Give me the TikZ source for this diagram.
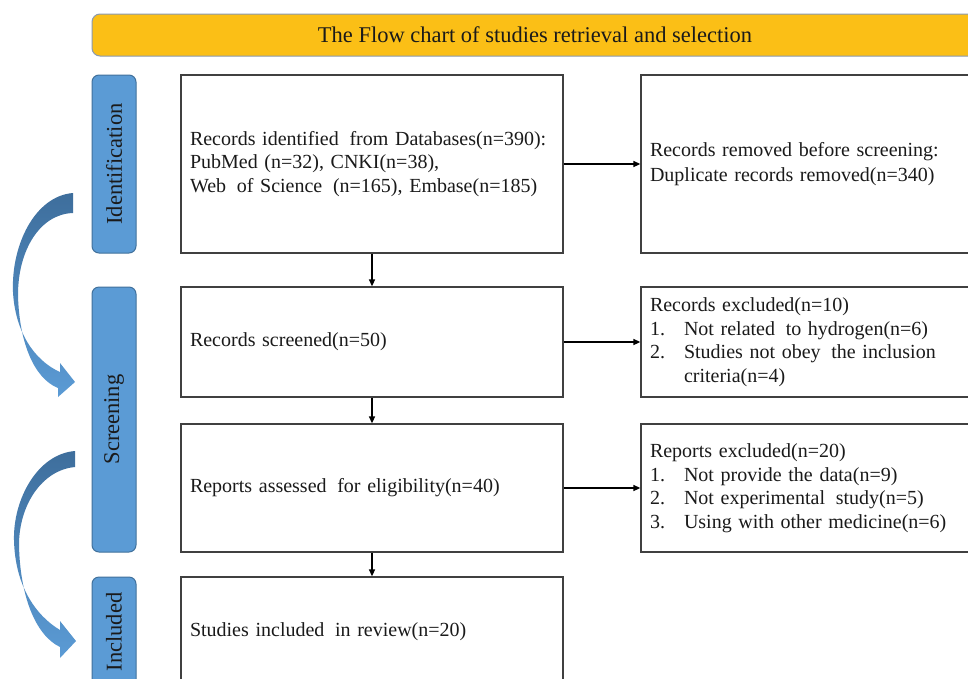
\documentclass[tikz,border=0pt]{standalone}
\usepackage{fontspec}
\setmainfont{Liberation Serif}
\usetikzlibrary{arrows.meta}
\definecolor{gold}{HTML}{FBBF16}
\definecolor{goldline}{HTML}{8A9AB0}
\definecolor{sideblue}{HTML}{5B9BD5}
\definecolor{sideline}{HTML}{41719C}
\definecolor{darkblue}{HTML}{3E6E9C}
\definecolor{boxline}{HTML}{404040}
\definecolor{txt}{HTML}{1A1A1A}
\tikzset{
  mainbox/.style={draw=boxline, line width=1.3pt, fill=white, inner xsep=9pt, inner ysep=0pt,
    align=left, text=txt, font=\fontsize{20}{23.5}\selectfont},
  sidebox/.style={draw=sideline, line width=1pt, fill=sideblue, rounded corners=7pt,
    minimum width=44pt, inner sep=0pt, text=txt, font=\fontsize{22.5}{26}\selectfont},
  titlebar/.style={draw=goldline, line width=1pt, fill=gold, rounded corners=8pt,
    minimum width=886pt, minimum height=42pt, inner sep=0pt, text=txt, font=\fontsize{22.5}{26}\selectfont},
  arr/.style={line width=1.4pt, draw=black, -{Triangle[length=7pt,width=6pt]}},
  bendarrow/.style={top color=darkblue, bottom color=sideblue, draw=none}
}
\newcommand{\itm}[1]{\makebox[34pt][l]{#1}}
\newcommand{\wsp}{\hspace*{4pt}}
\begin{document}
\begin{tikzpicture}[x=1pt,y=-1pt]
\path[use as bounding box] (0,0) rectangle (968,678);
\clip (0,0) rectangle (968,678);
\fill[white] (0,0) rectangle (968,678);

% title
\node[titlebar] (title) at (535,35) {The Flow chart of studies retrieval and selection};

% side labels
\node[sidebox, minimum height=178pt] (ident) at (114,164) {\rotatebox{90}{Identification}};
\node[sidebox, minimum height=265pt] (screen) at (114,419.5) {\rotatebox{90}{Screening}};
\node[sidebox, minimum height=110pt] (incl) at (114,632) {\rotatebox{90}{Included}};

% main boxes
\node[mainbox, text width=364pt, minimum height=178pt] (b1) at (372,164)
  {Records identified \wsp from Databases(n=390):\\PubMed (n=32), CNKI(n=38),\\Web \wsp of Science \wsp (n=165), Embase(n=185)};
\node[mainbox, text width=364pt, minimum height=110pt] (b2) at (372,342)
  {Records screened(n=50)};
\node[mainbox, text width=364pt, minimum height=128pt] (b3) at (372,488)
  {Reports assessed \wsp for eligibility(n=40)};
\node[mainbox, text width=364pt, minimum height=110pt] (b4) at (372,632)
  {Studies included \wsp in review(n=20)};

% right boxes
\node[mainbox, text width=331pt, minimum height=178pt, font=\fontsize{20}{25}\selectfont] (r1) at (815.5,164)
  {Records removed before screening:\\Duplicate records removed(n=340)};
\node[mainbox, text width=331pt, minimum height=110pt] (r2) at (815.5,342)
  {Records excluded(n=10)\\\itm{1.}Not related \wsp to hydrogen(n=6)\\\itm{2.}Studies not obey \wsp the inclusion\\\itm{}criteria(n=4)};
\node[mainbox, text width=331pt, minimum height=128pt] (r3) at (815.5,488)
  {Reports excluded(n=20)\\\itm{1.}Not provide the data(n=9)\\\itm{2.}Not experimental \wsp study(n=5)\\\itm{3.}Using with other medicine(n=6)};

% connectors
\draw[arr] (b1.south) -- (b2.north);
\draw[arr] (b2.south) -- (b3.north);
\draw[arr] (b3.south) -- (b4.north);
\draw[arr] (b1.east) -- (r1.west);
\draw[arr] (b2.east) -- (r2.west);
\draw[arr] (b3.east) -- (r3.west);

% curved block arrows
\shade[bendarrow] (73,193) .. controls (35,196) and (11,245) .. (13,292)
  .. controls (15,330) and (33,360) .. (60,372)
  -- (60,363) -- (75,382) -- (58,397) -- (58,388)
  .. controls (33,378) and (19,340) .. (18,295)
  .. controls (18,250) and (40,214) .. (73,213) -- cycle;
\shade[bendarrow] (75,451) .. controls (37,454) and (13,500) .. (14,540)
  .. controls (15,585) and (35,615) .. (60,630)
  -- (60,621) -- (76,641) -- (60,658) -- (60,647)
  .. controls (35,635) and (20,595) .. (19,545)
  .. controls (19,505) and (42,470) .. (75,467) -- cycle;
\end{tikzpicture}
\end{document}
